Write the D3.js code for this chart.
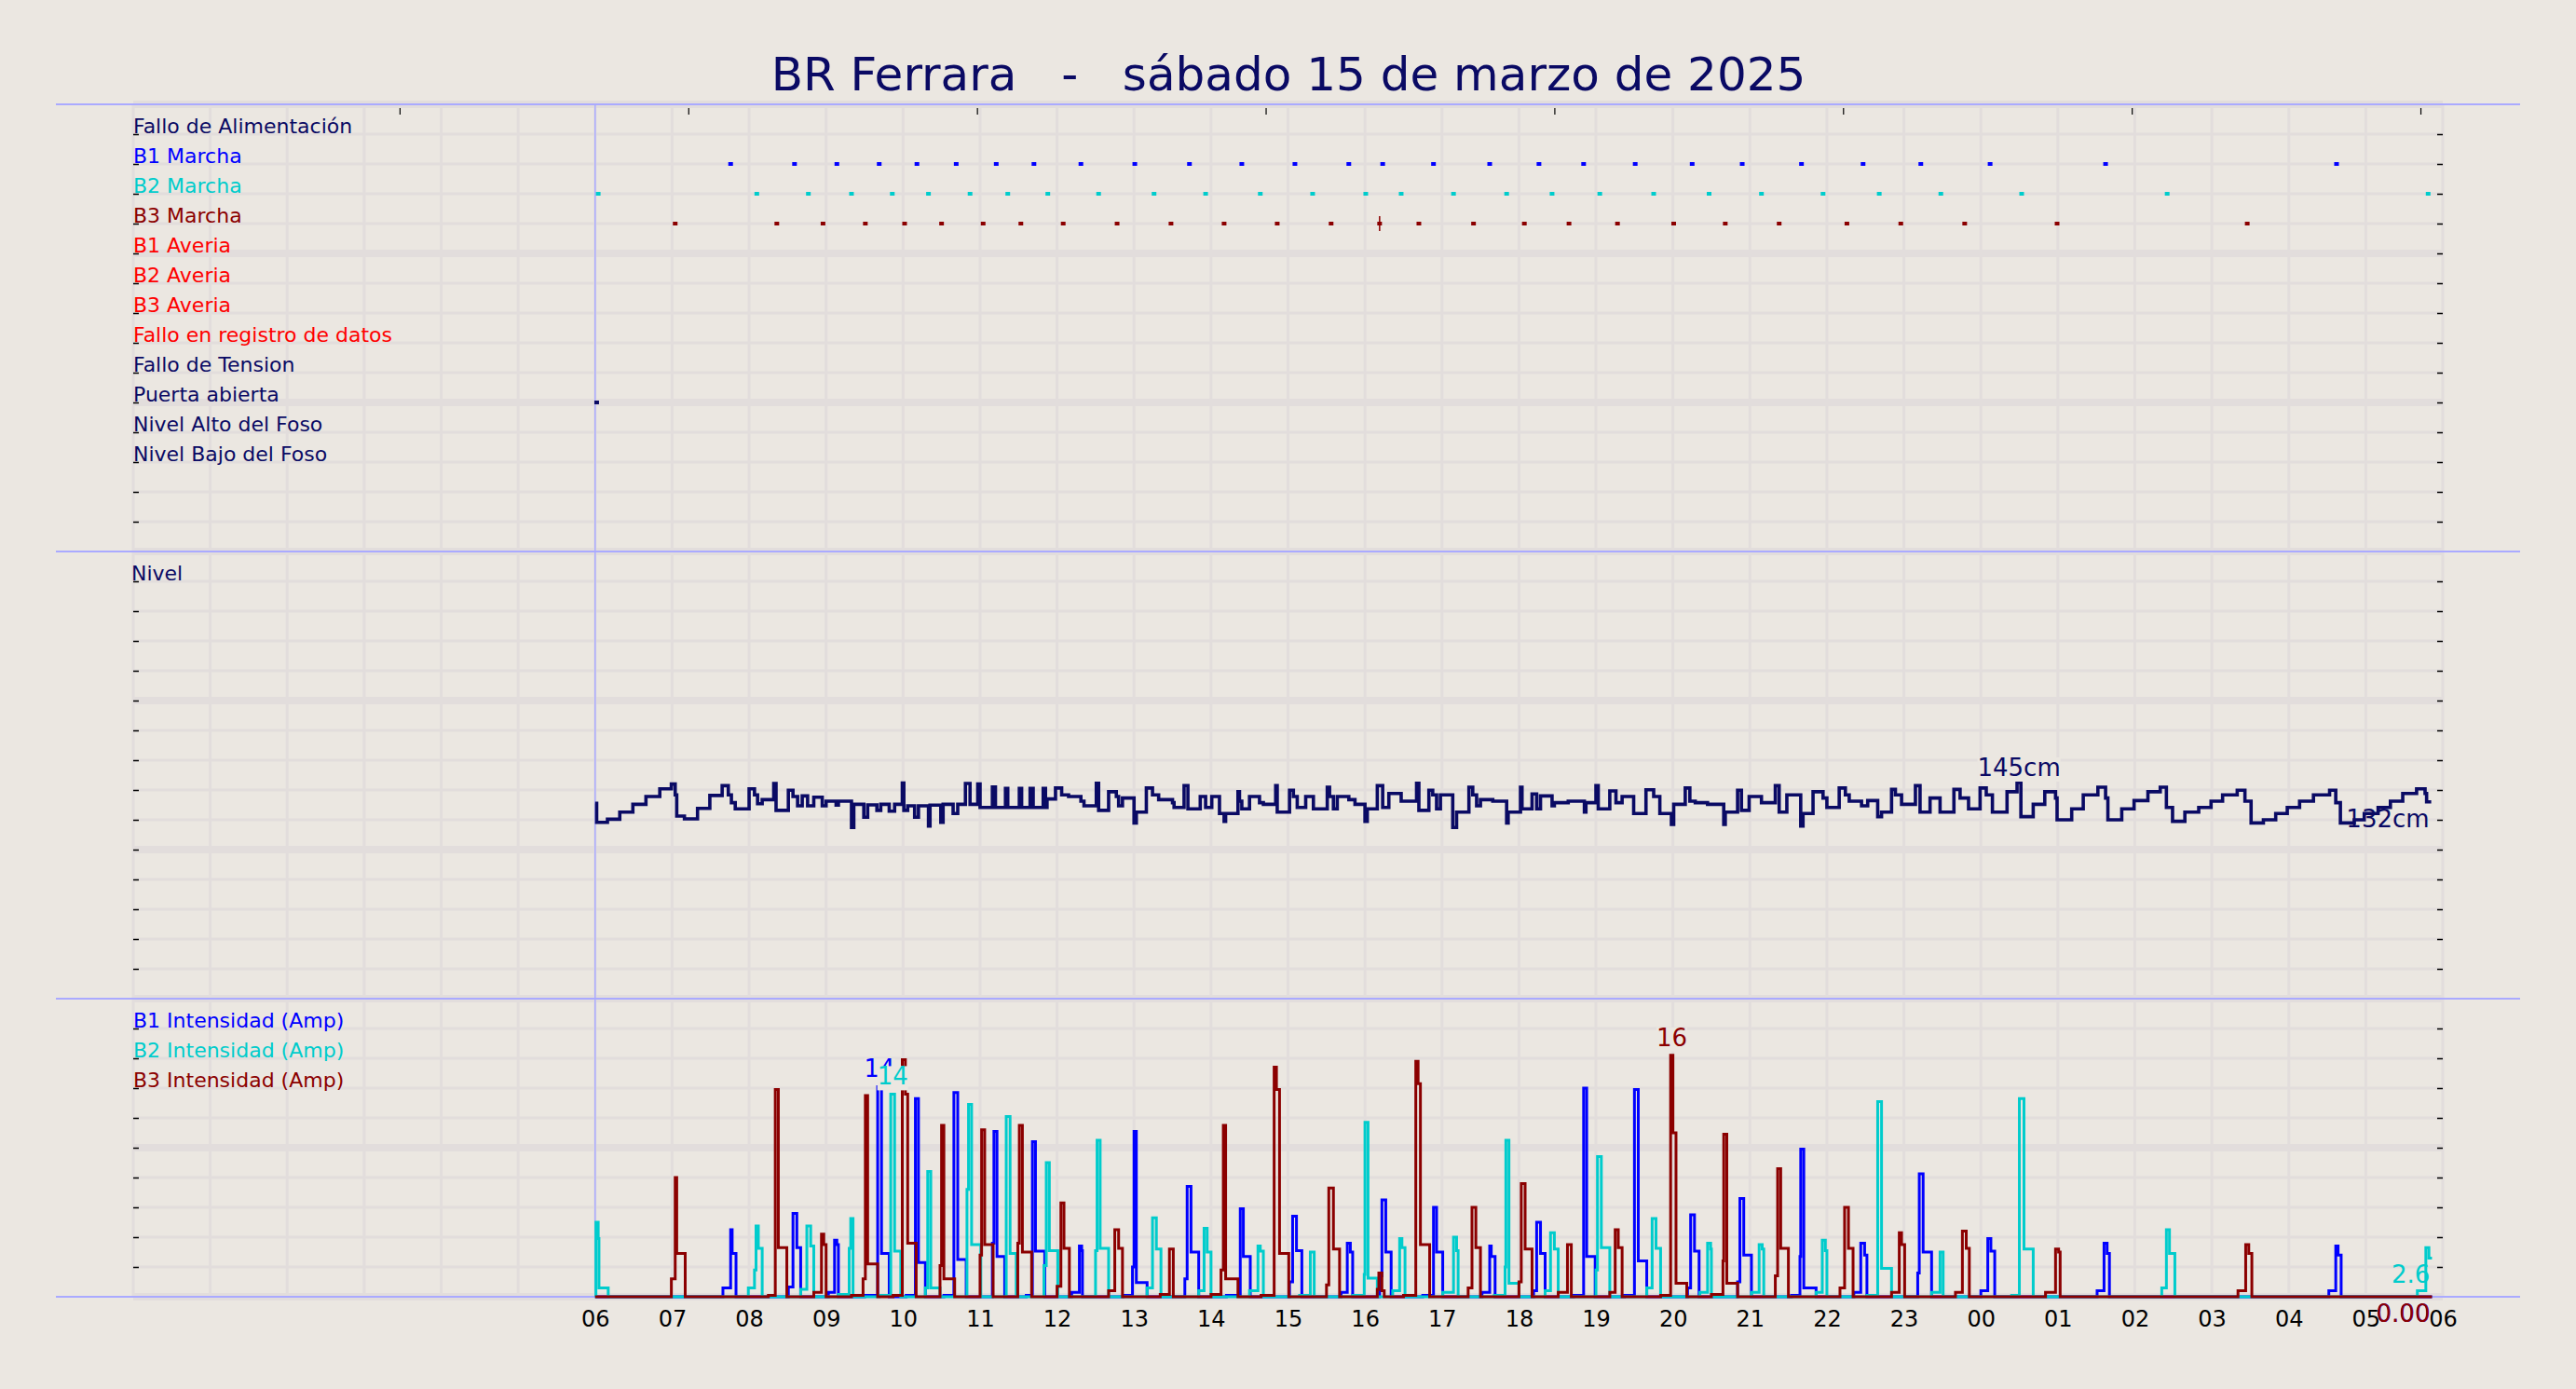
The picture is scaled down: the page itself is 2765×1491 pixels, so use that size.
<!DOCTYPE html>
<html><head><meta charset="utf-8">
<script src="https://cdn.jsdelivr.net/npm/d3@7"></script>
<style>html,body{margin:0;padding:0;background:#ebe7e1;} svg{display:block;font-family:"DejaVu Sans",sans-serif;}</style>
</head><body><svg id="c" width="2765" height="1491"></svg>
<script>
const title = "BR Ferrara   -   sábado 15 de marzo de 2025";
const tickHours = [6,7,8,9,10,11,12,13,14,15,16,17,18,19,20,21,22,23,24,25,26,27,28,29,30];
const tickLabels = ["06","07","08","09","10","11","12","13","14","15","16","17","18","19","20","21","22","23","00","01","02","03","04","05","06"];
const topTicks = [3.46,7.21,10.96,14.71,18.46,22.21,25.96,29.71];

const statusRows = ["Fallo de Alimentación","B1 Marcha","B2 Marcha","B3 Marcha","B1 Averia","B2 Averia","B3 Averia","Fallo en registro de datos","Fallo de Tension","Puerta abierta","Nivel Alto del Foso","Nivel Bajo del Foso"];
const statusColors = ["#0a0a64","#0000ff","#00cccc","#8b0000","#ff0000","#ff0000","#ff0000","#ff0000","#0a0a64","#0a0a64","#0a0a64","#0a0a64"];

const b1On = [7.76,8.59,9.14,9.69,10.18,10.69,11.21,11.70,12.31,13.01,13.72,14.40,15.09,15.79,16.23,16.89,17.62,18.26,18.84,19.51,20.25,20.90,21.67,22.47,23.22,24.12,25.62,28.62];
const b2On = [6.04,8.10,8.77,9.33,9.86,10.33,10.87,11.36,11.88,12.54,13.26,13.93,14.64,15.32,16.01,16.47,17.15,17.84,18.43,19.05,19.75,20.47,21.15,21.95,22.68,23.48,24.53,26.42,29.81];
const b3On = [7.04,8.36,8.96,9.51,10.02,10.50,11.04,11.53,12.08,12.78,13.48,14.17,14.86,15.56,16.19,16.70,17.41,18.07,18.65,19.28,20.01,20.68,21.38,22.26,22.96,23.79,24.99,27.46];
const b3Double = [16.19];
const puertaOn = [6.02];

const levelName = "Nivel";
const levelData = [[6.00,131],[6.02,118.3],[6.16,120.4],[6.32,125.2],[6.49,130.4],[6.66,135.6],[6.84,140.8],[6.99,144],[7.04,136.7],[7.06,122.5],[7.16,120.6],[7.33,127.7],[7.49,136.3],[7.65,142.9],[7.73,136.7],[7.77,131.5],[7.82,127.3],[8.00,140.8],[8.07,136.7],[8.11,130.8],[8.17,133.5],[8.32,144.4],[8.35,126.3],[8.51,139.8],[8.57,135.6],[8.63,129.4],[8.69,136],[8.76,129.4],[8.84,135.2],[8.95,129.4],[9.00,132.5],[9.13,129.8],[9.16,132.5],[9.33,114.8],[9.36,130.4],[9.49,121.7],[9.54,130],[9.66,126.3],[9.71,130.4],[9.82,125.8],[9.89,130.4],[9.99,144.6],[10.01,126.3],[10.06,129.4],[10.15,121.7],[10.20,129.4],[10.33,115.8],[10.35,129.8],[10.49,118.3],[10.52,130.4],[10.65,124.2],[10.71,130.4],[10.81,144.4],[10.87,130.4],[10.97,144],[11.00,128.3],[11.16,142],[11.20,128.3],[11.33,141],[11.36,128.3],[11.51,141],[11.54,128.3],[11.65,141],[11.69,128.3],[11.82,141],[11.85,128.3],[11.87,134],[11.98,141.3],[12.06,136.7],[12.15,135.6],[12.31,132.5],[12.35,129.4],[12.51,144.5],[12.54,126.3],[12.67,138.8],[12.77,135.6],[12.80,129.4],[12.85,134.6],[13.00,117.9],[13.03,125.2],[13.16,141.3],[13.24,136.7],[13.32,133.5],[13.50,131.5],[13.52,128.3],[13.65,143],[13.70,127.3],[13.86,135.6],[13.93,128.3],[14.01,135.6],[14.11,124.2],[14.17,119],[14.19,124.2],[14.35,138.8],[14.37,132.5],[14.40,127.3],[14.50,135.6],[14.63,131.5],[14.68,130.4],[14.84,142.9],[14.86,125.2],[15.02,139.8],[15.07,135.6],[15.12,128.3],[15.23,135.6],[15.33,127.3],[15.51,141.9],[15.54,135.6],[15.59,127.3],[15.64,135.6],[15.79,133.5],[15.87,130.4],[16.00,119],[16.03,127.3],[16.16,142.9],[16.23,128.3],[16.31,137.7],[16.47,132.5],[16.67,144.5],[16.70,126.3],[16.83,139.8],[16.88,136.7],[16.93,127.3],[16.98,136.7],[17.14,114.8],[17.19,125.2],[17.35,141.9],[17.40,136.7],[17.45,129.4],[17.50,133.5],[17.66,132.5],[17.84,117.9],[17.86,125.2],[18.02,141.9],[18.04,127.3],[18.17,137.3],[18.23,127.3],[18.28,136],[18.43,129.4],[18.46,131.5],[18.64,132.5],[18.85,125.2],[18.87,131.5],[19.00,142.9],[19.03,127.3],[19.18,139.4],[19.26,131.5],[19.34,135.6],[19.49,124.2],[19.65,140.2],[19.75,135.6],[19.83,124.2],[19.98,116.9],[20.01,130.4],[20.16,141.3],[20.22,132.5],[20.29,131.5],[20.45,130.4],[20.66,116.9],[20.68,125.2],[20.84,139.8],[20.89,126.3],[20.99,135.6],[21.15,131.5],[21.33,142.9],[21.38,125.2],[21.48,136.7],[21.66,115.8],[21.69,124.2],[21.82,138.8],[21.95,134.6],[22.00,128.3],[22.16,141.3],[22.24,136.7],[22.29,132.5],[22.45,129.4],[22.53,132.9],[22.66,122.1],[22.71,125.2],[22.84,140.4],[22.89,136.7],[22.97,130.4],[23.15,142.9],[23.21,125.2],[23.34,134.6],[23.47,125.2],[23.65,140.4],[23.73,134.6],[23.84,127.3],[23.99,141.3],[24.07,136.7],[24.15,125.2],[24.34,138.8],[24.47,145],[24.52,122.1],[24.68,130.4],[24.83,138.8],[24.97,134.6],[24.99,120],[25.18,127.3],[25.33,136.7],[25.52,141.9],[25.62,134.6],[25.65,120],[25.83,127.3],[25.99,132.9],[26.17,138.8],[26.33,141.9],[26.41,128.3],[26.49,119],[26.65,125.2],[26.83,128.3],[26.99,132.5],[27.14,136.7],[27.33,139.8],[27.43,132.5],[27.51,117.9],[27.67,120],[27.83,124.2],[27.98,128.3],[28.14,132.5],[28.32,136.7],[28.53,139.8],[28.61,131.5],[28.67,117.9],[28.85,120],[28.98,124.2],[29.16,128.3],[29.32,132.5],[29.48,137.7],[29.66,140.8],[29.77,137.7],[29.79,132],[29.85,132]];

const ampNames = ["B1 Intensidad (Amp)","B2 Intensidad (Amp)","B3 Intensidad (Amp)"];
const ampColors = ["#0000ff","#00cccc","#8b0000"];
const b1Amp = [[6.00,0],[7.66,0.6],[7.76,4.5],[7.78,2.9],[7.83,0],[8.51,0.65],[8.57,5.6],[8.62,3.3],[8.67,0],[9.03,0.3],[9.11,3.8],[9.14,3.5],[9.16,0],[9.50,0.1],[9.67,14.1],[9.72,2.9],[9.82,0],[10.04,0.1],[10.16,13.3],[10.20,2.3],[10.29,0],[10.53,0.1],[10.66,13.7],[10.71,2.5],[10.82,0],[11.16,3.6],[11.18,11.1],[11.22,2.7],[11.32,0],[11.60,0.1],[11.68,10.4],[11.72,3.06],[11.84,0],[12.19,0.3],[12.29,3.4],[12.32,3.1],[12.33,0],[12.86,0.1],[12.98,2.0],[13.00,11.1],[13.03,0.96],[13.17,0],[13.66,1.2],[13.69,7.4],[13.74,3.0],[13.84,0],[14.20,0.1],[14.38,5.9],[14.42,2.7],[14.51,0],[15.02,1.0],[15.06,5.4],[15.11,3.1],[15.18,0],[15.69,0.3],[15.77,3.6],[15.81,3.0],[15.84,0],[16.19,1.4],[16.22,6.5],[16.27,3.0],[16.34,0],[16.75,0.1],[16.89,6.0],[16.93,3.0],[17.01,0],[17.52,0.3],[17.62,3.4],[17.64,2.7],[17.69,0],[18.19,0.4],[18.23,5.0],[18.28,2.9],[18.34,0],[18.71,0.1],[18.84,14.0],[18.88,2.7],[18.99,0],[19.37,0.1],[19.50,13.9],[19.55,2.4],[19.66,0],[20.19,0.6],[20.23,5.5],[20.28,3.06],[20.34,0],[20.84,1.0],[20.87,6.6],[20.92,2.8],[21.02,0],[21.54,0.1],[21.65,2.7],[21.66,9.9],[21.70,0.6],[21.86,0],[22.35,0.3],[22.44,3.6],[22.49,2.8],[22.52,0],[23.18,1.6],[23.20,8.25],[23.25,3.0],[23.36,0],[24.00,0.4],[24.09,3.9],[24.13,3.06],[24.18,0],[25.51,0.4],[25.60,3.6],[25.64,2.9],[25.67,0],[28.52,0.4],[28.61,3.4],[28.64,2.8],[28.68,0],[29.86,0]];
const b2Amp = [[6.00,0],[6.01,5.0],[6.04,3.9],[6.05,0.6],[6.17,0],[7.99,0.6],[8.07,1.8],[8.09,4.75],[8.12,3.25],[8.17,0],[8.67,0.5],[8.75,4.75],[8.80,3.4],[8.84,0],[9.16,0.15],[9.30,3.25],[9.32,5.25],[9.35,0],[9.69,0.1],[9.84,13.6],[9.89,3.06],[9.97,0],[10.29,0.6],[10.32,8.4],[10.36,0.6],[10.48,0],[10.83,7.2],[10.85,12.9],[10.89,3.5],[11.01,0],[11.34,12.1],[11.39,2.9],[11.47,0],[11.83,2.1],[11.86,9.0],[11.90,3.1],[12.01,0],[12.50,3.1],[12.52,10.5],[12.56,3.25],[12.67,0],[13.17,0.6],[13.24,5.3],[13.29,3.2],[13.35,0],[13.84,0.4],[13.91,4.6],[13.95,3.0],[14.00,0],[14.50,0.4],[14.61,3.4],[14.64,3.06],[14.68,0],[15.15,0.1],[15.29,3.0],[15.34,0],[15.84,0.1],[15.99,1.5],[16.00,11.7],[16.04,1.25],[16.16,0],[16.36,0.4],[16.45,3.9],[16.48,3.3],[16.52,0],[17.01,0.3],[17.15,4.0],[17.19,3.1],[17.21,0],[17.68,0.1],[17.82,2.0],[17.83,10.5],[17.87,0.9],[18.00,0],[18.34,0.4],[18.41,4.3],[18.46,3.2],[18.51,0],[19.00,1.8],[19.02,9.4],[19.07,3.3],[19.18,0],[19.66,0.6],[19.73,5.25],[19.78,3.25],[19.84,0],[20.35,0.3],[20.45,3.6],[20.49,3.2],[20.50,0],[21.02,0.3],[21.12,3.5],[21.16,3.2],[21.18,0],[21.86,0.3],[21.94,3.8],[21.98,3.1],[22.00,0],[22.52,0.1],[22.66,13.1],[22.71,1.9],[22.84,0],[23.36,0.3],[23.47,3.0],[23.51,0],[24.40,0.1],[24.50,13.3],[24.56,3.2],[24.68,0],[26.35,0.6],[26.41,4.5],[26.45,2.9],[26.52,0],[29.67,0.4],[29.78,3.3],[29.82,2.6],[29.86,2.6]];
const b3Amp = [[6.00,0],[6.99,1.2],[7.04,8.0],[7.06,2.9],[7.17,0],[8.25,0.1],[8.34,13.9],[8.38,3.3],[8.49,0],[8.84,0.3],[8.94,4.2],[8.97,3.5],[9.00,0],[9.33,0.1],[9.48,1.2],[9.51,13.5],[9.54,2.2],[9.67,0],[9.87,0.1],[9.99,15.9],[10.03,13.6],[10.06,3.6],[10.17,0],[10.48,2.1],[10.50,11.5],[10.53,1.2],[10.67,0],[11.00,2.8],[11.02,11.2],[11.06,3.5],[11.17,0],[11.49,3.6],[11.51,11.5],[11.55,3.0],[11.67,0],[12.00,0.7],[12.05,6.3],[12.09,3.25],[12.16,0],[12.67,0.4],[12.75,4.5],[12.80,3.25],[12.85,0],[13.34,0.15],[13.46,3.2],[13.51,0],[14.00,0.15],[14.13,1.8],[14.16,11.5],[14.19,1.2],[14.35,0],[14.65,0.1],[14.82,15.4],[14.85,13.9],[14.89,2.9],[15.01,0],[15.50,0.8],[15.53,7.3],[15.59,3.2],[15.67,0],[16.16,0.5],[16.18,1.6],[16.22,0.4],[16.25,0],[16.50,0.1],[16.66,15.8],[16.69,14.3],[16.72,3.5],[16.84,0],[17.34,0.6],[17.39,6.0],[17.44,3.3],[17.50,0],[18.00,1.0],[18.03,7.6],[18.08,3.2],[18.17,0],[18.51,0.3],[18.63,3.5],[18.68,0],[19.18,0.3],[19.25,4.5],[19.29,3.3],[19.34,0],[19.84,0.1],[19.97,16.2],[20.00,11.0],[20.04,0.9],[20.18,0],[20.50,0.15],[20.65,2.4],[20.66,10.9],[20.70,0.9],[20.84,0],[21.33,1.4],[21.36,8.6],[21.40,3.25],[21.50,0],[22.17,0.6],[22.23,6.0],[22.28,3.25],[22.34,0],[22.84,0.3],[22.94,4.3],[22.97,3.5],[23.01,0],[23.67,0.3],[23.76,4.4],[23.81,3.25],[23.85,0],[24.84,0.3],[24.97,3.2],[25.01,3.0],[25.03,0],[27.34,0.4],[27.44,3.5],[27.48,2.9],[27.52,0],[29.86,0]];

// ---------- drawing ----------
const BG = "#ebe7e1", GRID = "#e2dddc", NAVY = "#0a0a64", BORDER = "#aaaaff";
const svg = d3.select("#c");
svg.append("rect").attr("width",2765).attr("height",1491).attr("fill",BG);

const x = d3.scaleLinear().domain([0,30]).range([143,2622]);
const yStatus = d3.scaleLinear().domain([0,15]).range([592,112]);
const yLevel = d3.scaleLinear().domain([0,300]).range([1072,592]);
const yAmp = d3.scaleLinear().domain([0,20]).range([1392,1072]);

// title
svg.append("text").attr("x",1383).attr("y",97).attr("text-anchor","middle")
  .style("white-space","pre").attr("font-size",50).attr("fill",NAVY).text(title);

const grid = svg.append("g");
grid.selectAll("line.v").data(x.ticks(30)).join("line").attr("class","v")
  .attr("x1",d=>x(d)).attr("x2",d=>x(d)).attr("y1",112).attr("y2",1392)
  .attr("stroke",GRID).attr("stroke-width",3);
const panels = [
  {y:yStatus, ticks:yStatus.ticks(15), major:5},
  {y:yLevel, ticks:yLevel.ticks(15), major:100},
  {y:yAmp, ticks:yAmp.ticks(10), major:10}
];
panels.forEach(p=>{
  grid.append("g").selectAll("line").data(p.ticks).join("line")
    .attr("x1",143).attr("x2",2622).attr("y1",d=>p.y(d)).attr("y2",d=>p.y(d))
    .attr("stroke",GRID).attr("stroke-width",d=>d%p.major===0?8:3);
  const inner = p.ticks.slice(1,-1);
  const la = svg.append("g").attr("transform","translate(143,0)")
    .call(d3.axisLeft(p.y).tickValues(inner).tickSize(-6).tickFormat(""));
  la.select(".domain").remove();
  la.selectAll("line").attr("stroke","#000").attr("stroke-width",1.5);
  const ra = svg.append("g").attr("transform","translate(2622,0)")
    .call(d3.axisRight(p.y).tickValues(inner).tickSize(-6).tickFormat(""));
  ra.select(".domain").remove();
  ra.selectAll("line").attr("stroke","#000").attr("stroke-width",1.5);
});

// top ticks
const ta = svg.append("g").attr("transform","translate(0,123)")
  .call(d3.axisTop(x).tickValues(topTicks).tickSize(7).tickFormat(""));
ta.select(".domain").remove();
ta.selectAll("line").attr("stroke","#000").attr("stroke-width",1.2);

// borders
svg.append("g").selectAll("line").data([yStatus(15),yStatus(0),yLevel(0),yAmp(0)]).join("line")
  .attr("x1",60).attr("x2",2705).attr("y1",d=>d).attr("y2",d=>d)
  .attr("stroke",BORDER).attr("stroke-width",2);
svg.append("line").attr("x1",x(6)).attr("x2",x(6)).attr("y1",112).attr("y2",1392)
  .attr("stroke",BORDER).attr("stroke-width",1.5);

// row labels
const rowY = i => yStatus(14 - i);
svg.append("g").selectAll("text").data(statusRows).join("text")
  .attr("x",143).attr("y",(d,i)=>rowY(i)-1).attr("font-size",22)
  .attr("fill",(d,i)=>statusColors[i]).text(d=>d);
svg.append("text").attr("x",141).attr("y",yLevel(280)-1).attr("font-size",22).attr("fill",NAVY).text(levelName);
svg.append("g").selectAll("text").data(ampNames).join("text")
  .attr("x",143).attr("y",(d,i)=>yAmp(18-2*i)-1).attr("font-size",22)
  .attr("fill",(d,i)=>ampColors[i]).text(d=>d);

// status markers
function markers(arr,row,color){
  svg.append("g").selectAll("rect").data(arr).join("rect")
    .attr("x",d=>x(d)-2.5).attr("y",rowY(row)-2).attr("width",5).attr("height",4).attr("fill",color);
}
markers(b1On,1,"#0000ff");
markers(b2On,2,"#00cccc");
markers(b3On,3,"#8b0000");
markers(puertaOn,9,NAVY);
svg.append("g").selectAll("line").data(b3Double).join("line")
  .attr("x1",d=>x(d)).attr("x2",d=>x(d)).attr("y1",rowY(3)-8).attr("y2",rowY(3)+8)
  .attr("stroke","#8b0000").attr("stroke-width",1.5);

// level line
const lvlLine = d3.line().curve(d3.curveStepAfter).x(d=>x(d[0])).y(d=>yLevel(d[1]));
svg.append("path").datum(levelData).attr("d",lvlLine).attr("fill","none")
  .attr("stroke",NAVY).attr("stroke-width",3.6);

// amp lines
const ampLine = d3.line().curve(d3.curveStepAfter).x(d=>x(d[0])).y(d=>yAmp(d[1]));
const ampSeries = [b1Amp,b2Amp,b3Amp];
ampSeries.forEach((s,i)=>{
  svg.append("path").datum(s).attr("d",ampLine).attr("fill","none")
    .attr("stroke",ampColors[i]).attr("stroke-width",3);
});

// max labels (with background)
function maxLabel(data, yS, color, fmt, off){
  let mi = d3.maxIndex(data,d=>d[1]);
  const d0 = data[mi], d1 = data[Math.min(mi+1,data.length-1)];
  const t = svg.append("text").attr("x",x((d0[0]+d1[0])/2)).attr("y",yS(d0[1])-off)
    .attr("text-anchor","middle").attr("font-size",26).attr("fill",color).text(fmt(d0[1]));
  const bb = t.node().getBBox();
  svg.insert("rect", function(){return t.node();}).attr("x",bb.x).attr("y",bb.y+4).attr("width",bb.width).attr("height",bb.height-4).attr("fill",BG);
}
maxLabel(levelData,yLevel,NAVY,v=>Math.round(v)+"cm",7);
ampSeries.forEach((s,i)=>maxLabel(s,yAmp,ampColors[i],v=>String(Math.round(v)),10));

// last value labels
function lastLabel(data,yS,color,fmt){
  const d = data[data.length-1];
  svg.append("text").attr("x",x(d[0])-2).attr("y",yS(d[1])+27).attr("text-anchor","end")
    .attr("font-size",26).attr("fill",color).text(fmt(d[1]));
}
lastLabel(levelData,yLevel,NAVY,v=>Math.round(v)+"cm");
ampSeries.forEach((s,i)=>lastLabel(s,yAmp,ampColors[i],v=>v===0?"0.00":String(v)));

// x axis labels
const xa = svg.append("g").attr("transform","translate(0,1392)")
  .call(d3.axisBottom(x).tickValues(tickHours).tickFormat((d,i)=>tickLabels[i]).tickSize(0).tickPadding(15));
xa.select(".domain").remove();
xa.selectAll("text").attr("font-size",24).attr("fill","#000").attr("font-family","DejaVu Sans");
</script></body></html>
